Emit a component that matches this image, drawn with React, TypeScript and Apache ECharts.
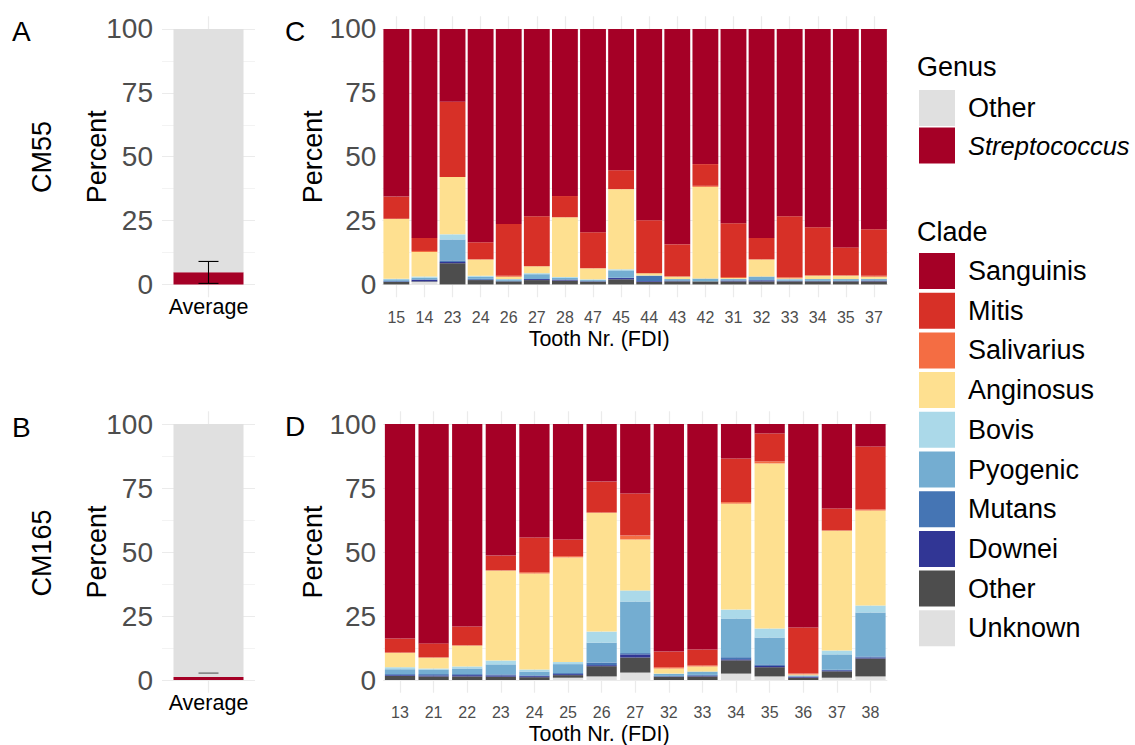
import React, { useEffect, useRef } from 'react';
import * as echarts from 'echarts';

const FONT = "'Liberation Sans', Arial, Helvetica, sans-serif";

// ---------- data ----------
const averageLabel = ['Average'];
const teethC = ['15', '14', '23', '24', '26', '27', '28', '47', '45', '44', '43', '42', '31', '32', '33', '34', '35', '37'];
const teethD = ['13', '21', '22', '23', '24', '25', '26', '27', '32', '33', '34', '35', '36', '37', '38'];
const yTicks = [0, 25, 50, 75, 100];
const yMinorTicks = [12.5, 37.5, 62.5, 87.5];

const strepA = [4.8];
const otherGenusA = [95.2];
const errA = [0.4, 9.0];
const strepB = [1.2];
const otherGenusB = [98.8];
const errB = [2.7, 2.7];

// panel C (CM55) clade percentages per tooth
const cUnknown = [0, 1.0, 0, 0, 0, 0, 0, 0, 0, 0, 0, 0, 0, 0, 0, 0, 0, 0];
const cOther = [1.0, 0.2, 8.3, 1.7, 1.2, 1.7, 1.5, 1.1, 2.0, 1.0, 1.2, 1.2, 1.2, 1.2, 1.2, 1.2, 1.2, 1.2];
const cDownei = [0.1, 0.6, 0.5, 0.1, 0, 0.4, 0.3, 0.1, 0.5, 0.3, 0.1, 0, 0.3, 0.4, 0.1, 0.1, 0.1, 0.2];
const cMutans = [0.3, 0.2, 0.6, 0.4, 0.2, 0, 0.2, 0.2, 0.1, 2.0, 0.3, 0, 0.1, 0.1, 0.2, 0.1, 0.1, 0.2];
const cPyogenic = [0.6, 0.6, 8.2, 0.8, 0.6, 1.9, 0.6, 0.4, 2.9, 0.2, 0.5, 1.1, 0.5, 1.4, 0.5, 0.7, 0.7, 0.5];
const cBovis = [0.2, 0.5, 2.0, 0.4, 0.1, 0.4, 0.3, 0.2, 0.4, 0, 0, 0, 0.1, 0, 0.1, 0, 0, 0.1];
const cAnginosus = [23.5, 9.6, 22.5, 6.4, 0.9, 2.7, 23.4, 4.3, 31.4, 0.9, 1.0, 35.9, 0.3, 6.7, 0.3, 1.4, 1.4, 0.8];
const cSalivarius = [0, 0.4, 0, 0, 0.4, 0, 0, 0, 0, 0, 0, 0.4, 0.4, 0, 0.4, 0, 0, 0.4];
const cMitis = [8.7, 5.1, 29.4, 6.7, 20.3, 19.6, 8.3, 14.1, 7.4, 20.7, 12.6, 8.5, 21.0, 8.4, 23.9, 18.9, 11.0, 18.2];
const cSanguinis = [65.6, 81.8, 28.5, 83.5, 76.3, 73.3, 65.4, 79.6, 55.3, 74.9, 84.3, 52.9, 76.1, 81.8, 73.3, 77.6, 85.5, 78.4];

// panel D (CM165) clade percentages per tooth
const dUnknown = [0, 0, 0, 0, 0, 0.9, 1.4, 2.9, 0, 0, 2.5, 1.4, 0, 0.9, 1.4];
const dOther = [1.6, 1.4, 1.4, 1.3, 1.1, 1.0, 4.0, 5.9, 1.3, 1.4, 5.2, 3.6, 0.9, 2.5, 7.0];
const dDownei = [0.3, 0.4, 0.5, 0.5, 0.4, 0.4, 0.4, 1.2, 0.1, 0.3, 0.4, 0.5, 0.4, 0.4, 0.4];
const dMutans = [0.4, 0.5, 0.4, 0.4, 0.3, 0.4, 1.0, 0.5, 0.2, 0.3, 0.8, 0.6, 0.1, 0.2, 0.4];
const dPyogenic = [1.9, 1.8, 2.2, 3.9, 1.5, 3.5, 7.8, 20.2, 0.8, 1.3, 15.1, 10.5, 0.4, 6.0, 17.2];
const dBovis = [0.8, 0.4, 0.8, 1.5, 0.8, 0.8, 4.3, 4.3, 0.1, 0, 3.5, 3.5, 0, 1.5, 2.7];
const dAnginosus = [5.7, 4.3, 8.2, 35.2, 37.5, 40.9, 46.5, 19.9, 2.0, 2.0, 41.4, 64.5, 0.4, 46.9, 37.1];
const dSalivarius = [0, 0, 0, 0, 0.5, 0.5, 0, 1.5, 0.5, 0.4, 0.6, 0.8, 0.3, 0, 0.4];
const dMitis = [5.5, 5.5, 7.4, 5.8, 13.6, 6.5, 12.1, 16.5, 6.1, 6.2, 17.0, 10.9, 18.0, 8.6, 24.6];
const dSanguinis = [83.8, 85.7, 79.1, 51.4, 44.3, 45.1, 22.5, 27.1, 88.9, 88.1, 13.5, 3.7, 79.5, 33.0, 8.8];

const cladeOrder = ['Unknown', 'Other', 'Downei', 'Mutans', 'Pyogenic', 'Bovis', 'Anginosus', 'Salivarius', 'Mitis', 'Sanguinis'];
const legendClades = [...cladeOrder].reverse();
const GENUS_OTHER = 'Other (genus)';
const genusLegend = [GENUS_OTHER, 'Streptococcus'];

const cladeColors: Record<string, string> = {
  Sanguinis: '#a50026',
  Mitis: '#d73027',
  Salivarius: '#f46d43',
  Anginosus: '#fee090',
  Bovis: '#abd9e9',
  Pyogenic: '#74add1',
  Mutans: '#4575b4',
  Downei: '#313695',
  Other: '#4d4d4d',
  Unknown: '#e0e0e0',
};
const genusColors: Record<string, string> = { [GENUS_OTHER]: '#e0e0e0', Streptococcus: '#a50026' };

const cData: Record<string, number[]> = {
  Unknown: cUnknown, Other: cOther, Downei: cDownei, Mutans: cMutans, Pyogenic: cPyogenic,
  Bovis: cBovis, Anginosus: cAnginosus, Salivarius: cSalivarius, Mitis: cMitis, Sanguinis: cSanguinis,
};
const dData: Record<string, number[]> = {
  Unknown: dUnknown, Other: dOther, Downei: dDownei, Mutans: dMutans, Pyogenic: dPyogenic,
  Bovis: dBovis, Anginosus: dAnginosus, Salivarius: dSalivarius, Mitis: dMitis, Sanguinis: dSanguinis,
};

// ---------- layout ----------
const GRIDS = [
  { left: 162, top: 16.2, width: 93, height: 281 }, // A
  { left: 382.3, top: 16.2, width: 505.7, height: 281 }, // C
  { left: 162, top: 411.2, width: 93, height: 281.6 }, // B
  { left: 383.2, top: 411.2, width: 504.1, height: 281.6 }, // D
];
const GRID_COLOR = '#ebebeb';

function majorY(gi: number, margin: number, nameGap: number) {
  return {
    type: 'value', gridIndex: gi, position: 'left', min: -5, max: 105,
    axisLine: { show: false },
    axisTick: { show: false, customValues: yTicks },
    axisLabel: { customValues: yTicks, fontSize: 28, color: '#4d4d4d', fontFamily: FONT, margin },
    splitLine: { show: true, lineStyle: { color: GRID_COLOR, width: 1.2 } },
    name: 'Percent', nameLocation: 'middle', nameGap, nameRotate: 90, nameMoveOverlap: false,
    nameTextStyle: { fontSize: 27, color: '#000', fontFamily: FONT },
  };
}
function minorY(gi: number) {
  return {
    type: 'value', gridIndex: gi, position: 'left', min: -5, max: 105,
    axisLine: { show: false },
    axisTick: { show: false, customValues: yMinorTicks },
    axisLabel: { show: false },
    splitLine: { show: true, lineStyle: { color: GRID_COLOR, width: 0.6 } },
  };
}
function catX(gi: number, data: string[], big: boolean) {
  const g = GRIDS[gi];
  const base: any = {
    type: 'category', gridIndex: gi, data, position: 'bottom',
    axisLine: { show: false, onZero: false },
    axisTick: { show: true, inside: true, alignWithLabel: true, length: g.height, lineStyle: { color: GRID_COLOR, width: 1.2 } },
    axisLabel: big
      ? { interval: 0, fontSize: 21.5, color: '#000', fontFamily: FONT, margin: -1 }
      : { interval: 0, fontSize: 16, color: '#4d4d4d', fontFamily: FONT, margin: 12 },
    splitLine: { show: false },
  };
  if (!big) {
    base.name = 'Tooth Nr. (FDI)';
    base.nameLocation = 'middle';
    base.nameGap = 30.5;
    base.nameMoveOverlap = false;
    base.nameTextStyle = { fontSize: 21.5, color: '#000', fontFamily: FONT, padding: [0, 72, 0, 0] };
  }
  return base;
}

function errorSeries(xi: number, yi: number, err: number[], color: string) {
  return {
    type: 'custom', xAxisIndex: xi, yAxisIndex: yi, z: 5, silent: true,
    data: [[0, err[0], err[1]]],
    encode: { x: 0, y: [1, 2] },
    renderItem: (_p: any, api: any) => {
      const lo = api.coord([api.value(0), api.value(1)]);
      const hi = api.coord([api.value(0), api.value(2)]);
      const hw = 10;
      const st = { stroke: color, lineWidth: 1.1 };
      const children: any[] = [
        { type: 'line', shape: { x1: hi[0] - hw, y1: hi[1], x2: hi[0] + hw, y2: hi[1] }, style: st },
      ];
      if (Math.abs(lo[1] - hi[1]) > 0.5) {
        children.push({ type: 'line', shape: { x1: lo[0], y1: lo[1], x2: hi[0], y2: hi[1] }, style: st });
        children.push({ type: 'line', shape: { x1: lo[0] - hw, y1: lo[1], x2: lo[0] + hw, y2: lo[1] }, style: st });
      }
      return { type: 'group', children };
    },
  };
}

function txt(text: string, x: number, y: number, size: number, opts: any = {}) {
  return {
    type: 'text', x, y, rotation: opts.rotation || 0, silent: true,
    style: {
      text, fontSize: size, fontFamily: FONT, fill: '#000',
      textAlign: opts.align || 'left', textVerticalAlign: 'middle',
      fontStyle: opts.italic ? 'italic' : 'normal',
    },
  };
}

export default function App() {
  const ref = useRef<HTMLDivElement>(null);
  useEffect(() => {
    document.body.style.margin = '0';
    if (!ref.current) return;
    const chart = echarts.init(ref.current, undefined, { renderer: 'svg' });

    const series: any[] = [];
    // Panel A
    series.push({ type: 'bar', name: 'Streptococcus', xAxisIndex: 0, yAxisIndex: 0, stack: 'A', barWidth: 70, data: strepA, itemStyle: { color: genusColors.Streptococcus } });
    series.push({ type: 'bar', name: GENUS_OTHER, xAxisIndex: 0, yAxisIndex: 0, stack: 'A', barWidth: 70, data: otherGenusA, itemStyle: { color: genusColors[GENUS_OTHER] } });
    series.push(errorSeries(0, 0, errA, '#000'));
    // Panel B
    series.push({ type: 'bar', name: 'Streptococcus', xAxisIndex: 2, yAxisIndex: 4, stack: 'B', barWidth: 70, data: strepB, itemStyle: { color: genusColors.Streptococcus } });
    series.push({ type: 'bar', name: GENUS_OTHER, xAxisIndex: 2, yAxisIndex: 4, stack: 'B', barWidth: 70, data: otherGenusB, itemStyle: { color: genusColors[GENUS_OTHER] } });
    series.push(errorSeries(2, 4, errB, '#555'));
    // Panels C and D
    cladeOrder.forEach((cl) => {
      series.push({ type: 'bar', name: cl, xAxisIndex: 1, yAxisIndex: 2, stack: 'C', barCategoryGap: '8%', data: cData[cl], itemStyle: { color: cladeColors[cl] } });
    });
    cladeOrder.forEach((cl) => {
      series.push({ type: 'bar', name: cl, xAxisIndex: 3, yAxisIndex: 6, stack: 'D', barCategoryGap: '10%', data: dData[cl], itemStyle: { color: cladeColors[cl] } });
    });

    const legendCommon = {
      orient: 'vertical', padding: 0, itemWidth: 36, itemHeight: 36, itemGap: 3.7, icon: 'rect',
      selectedMode: false, left: 919,
      textStyle: {
        fontSize: 27, color: '#000', fontFamily: FONT, lineHeight: 36, padding: [0, 0, 0, 8],
        rich: { i: { fontSize: 25.5, fontStyle: 'italic', fontFamily: FONT, color: '#000', lineHeight: 36 } },
      },
    };

    chart.setOption({
      animation: false,
      backgroundColor: '#fff',
      grid: GRIDS.map((g) => ({ ...g, containLabel: false, outerBoundsMode: 'none' })),
      xAxis: [catX(0, averageLabel, true), catX(1, teethC, false), catX(2, averageLabel, true), catX(3, teethD, false)],
      yAxis: [
        majorY(0, 9, 52), minorY(0),
        majorY(1, 6, 56), minorY(1),
        majorY(2, 9, 52), minorY(2),
        majorY(3, 7, 57), minorY(3),
      ],
      legend: [
        {
          ...legendCommon, top: 90, itemGap: 1.5, data: genusLegend,
          formatter: (n: string) => (n === 'Streptococcus' ? '{i|Streptococcus}' : 'Other'),
        },
        { ...legendCommon, top: 253, data: legendClades },
      ],
      graphic: [
        txt('A', 12, 31, 28),
        txt('B', 12, 427, 28),
        txt('C', 285, 31, 28),
        txt('D', 285, 426, 28),
        txt('CM55', 42, 157, 27, { rotation: Math.PI / 2, align: 'center' }),
        txt('CM165', 42, 553, 27, { rotation: Math.PI / 2, align: 'center' }),
        txt('Genus', 917, 67, 27),
        txt('Clade', 917, 232, 27),
      ],
      series,
    });
    return () => chart.dispose();
  }, []);
  return <div ref={ref} style={{ width: 1135, height: 745 }} />;
}
